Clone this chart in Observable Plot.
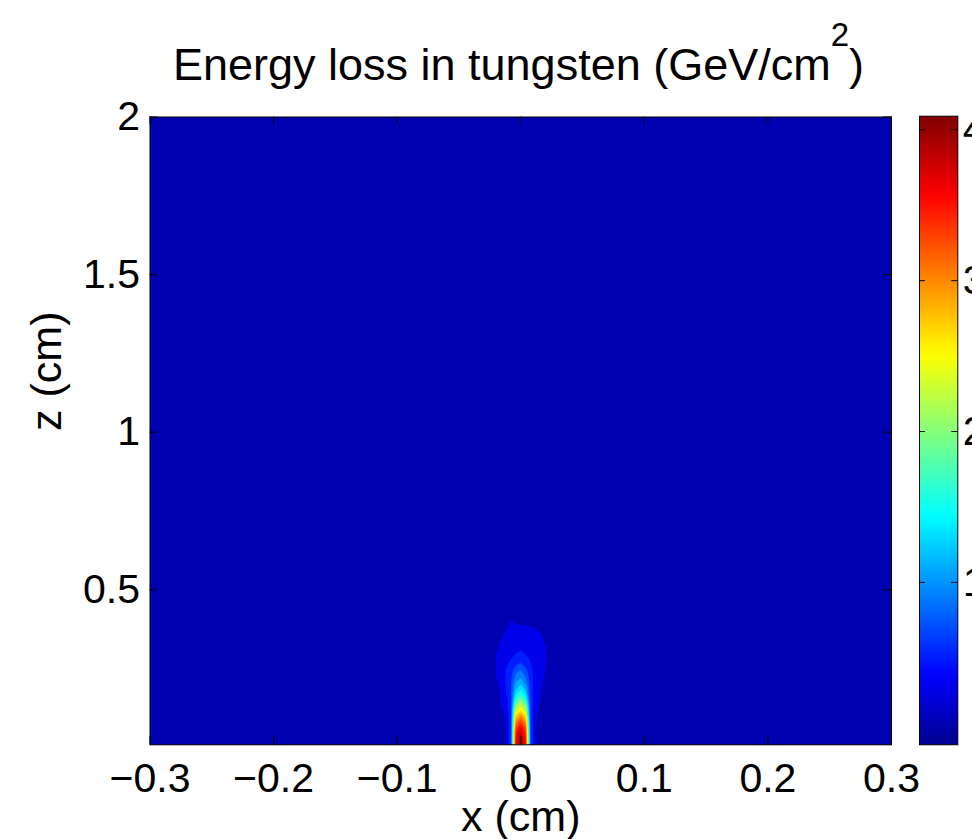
<!DOCTYPE html>
<html><head><meta charset="utf-8">
<script src="https://cdn.jsdelivr.net/npm/d3@7"></script>
<script src="https://cdn.jsdelivr.net/npm/@observablehq/plot@0.6"></script>
<style>
html,body{margin:0;padding:0;background:#fff;overflow:hidden;}
#wrap{position:relative;width:972px;height:839px;overflow:hidden;font-family:"Liberation Sans",Arial,sans-serif;}
#wrap svg{position:absolute;top:0;}
</style></head><body><div id="wrap"></div>
<script>
// ---- data ----
const xTicks = [-0.3, -0.2, -0.1, 0, 0.1, 0.2, 0.3];
const zTicks = [0.5, 1, 1.5, 2];
const cbTicks = [1, 2, 3, 4];
const xDomain = [-0.3, 0.3];
const zDomain = [0.008, 2];
const valueDomain = [-0.076, 4.09];
const jetStops = [0, 0.11, 0.365, 0.62, 0.873, 1];
const jetColors = ["#00008f", "#0000ff", "#00ffff", "#ffff00", "#ff0000", "#800000"];
const bgValue = 0.06;
const levels = [0.3,0.5,0.7,0.9,1.1,1.3,1.5,1.7,1.9,2.1,2.3,2.5,2.7,2.9,3.1,3.3,3.5,3.7,3.9];
// grid column centres (cm) and row centres (cm, top to bottom)
const gridX = [-0.028,-0.024,-0.020,-0.016,-0.012,-0.008,-0.004,0,0.004,0.008,0.012,0.016,0.020,0.024,0.028];
const gridZ = [0.42,0.40,0.38,0.36,0.34,0.32,0.30,0.28,0.26,0.24,0.22,0.20,0.18,0.16,0.14,0.12,0.10,0.08,0.06,0.04,0.02,0.00];
const energy = [
 [0.06,0.06,0.06,0.06,0.06,0.06,0.06,0.06,0.06,0.06,0.06,0.06,0.06,0.06,0.06],
 [0.06,0.06,0.06,0.08,0.14,0.33,0.24,0.20,0.18,0.15,0.12,0.10,0.08,0.06,0.06],
 [0.06,0.06,0.08,0.12,0.26,0.37,0.37,0.37,0.35,0.33,0.29,0.20,0.10,0.06,0.06],
 [0.06,0.06,0.11,0.24,0.34,0.39,0.41,0.41,0.41,0.39,0.36,0.32,0.20,0.08,0.06],
 [0.06,0.08,0.17,0.31,0.37,0.41,0.43,0.44,0.43,0.41,0.39,0.35,0.27,0.10,0.06],
 [0.06,0.09,0.24,0.34,0.39,0.43,0.46,0.47,0.46,0.43,0.40,0.37,0.31,0.12,0.06],
 [0.06,0.10,0.29,0.36,0.41,0.46,0.49,0.52,0.49,0.45,0.41,0.37,0.32,0.13,0.06],
 [0.06,0.10,0.32,0.37,0.43,0.50,0.58,0.62,0.56,0.48,0.42,0.37,0.32,0.12,0.06],
 [0.06,0.10,0.32,0.37,0.48,0.56,0.70,0.76,0.66,0.52,0.42,0.37,0.31,0.11,0.06],
 [0.06,0.09,0.31,0.37,0.52,0.62,0.86,0.94,0.80,0.56,0.42,0.36,0.29,0.10,0.06],
 [0.06,0.09,0.29,0.36,0.52,0.66,1.00,1.10,0.92,0.58,0.41,0.35,0.27,0.09,0.06],
 [0.06,0.08,0.26,0.35,0.52,0.68,1.15,1.30,1.06,0.60,0.41,0.34,0.23,0.08,0.06],
 [0.06,0.08,0.21,0.34,0.50,0.68,1.32,1.52,1.26,0.62,0.40,0.33,0.19,0.08,0.06],
 [0.06,0.08,0.16,0.33,0.46,0.68,1.58,1.85,1.54,0.64,0.39,0.31,0.15,0.07,0.06],
 [0.06,0.07,0.13,0.31,0.42,0.68,1.95,2.25,1.90,0.66,0.38,0.29,0.13,0.07,0.06],
 [0.06,0.07,0.11,0.27,0.36,0.66,2.35,2.65,2.30,0.66,0.35,0.26,0.11,0.06,0.06],
 [0.06,0.07,0.09,0.23,0.33,0.66,2.75,3.05,2.70,0.68,0.33,0.23,0.09,0.06,0.06],
 [0.06,0.07,0.08,0.19,0.31,0.66,3.10,3.45,3.05,0.70,0.31,0.20,0.08,0.06,0.06],
 [0.06,0.07,0.08,0.16,0.30,0.66,3.40,3.75,3.35,0.72,0.30,0.17,0.08,0.06,0.06],
 [0.06,0.06,0.07,0.13,0.29,0.66,3.58,3.97,3.54,0.72,0.29,0.15,0.07,0.06,0.06],
 [0.06,0.06,0.07,0.11,0.29,0.66,3.66,4.05,3.62,0.72,0.29,0.13,0.07,0.06,0.06],
 [0.06,0.06,0.07,0.11,0.29,0.66,3.70,4.09,3.66,0.72,0.29,0.13,0.07,0.06,0.06]
];

// ---- layout ----
const W = 972, H = 839;
const mL = 149.5, mR = 81, mT = 116.5, mB = 94.7;
const fW = W - mL - mR, fH = H - mT - mB;
const fontFamily = '"Liberation Sans", Arial, sans-serif';
const jet = d3.scaleLinear().domain(jetStops).range(jetColors).interpolate(d3.interpolateRgb).clamp(true);
const color = {type: "linear", domain: valueDomain, interpolate: (t) => jet(t)};
const fmt = (d) => (d < 0 ? "\u2212" : "") + Math.abs(d);

const nx = gridX.length, nz = gridZ.length;
const dx = gridX[1] - gridX[0], dz = gridZ[0] - gridZ[1];
const values = energy.slice().reverse().flat(); // bottom row first
const x1 = gridX[0] - dx / 2, x2 = gridX[nx - 1] + dx / 2;
const y1 = gridZ[nz - 1] - dz / 2, y2 = gridZ[0] + dz / 2;

const main = Plot.plot({
  width: W, height: H,
  marginLeft: mL, marginRight: mR, marginTop: mT, marginBottom: mB,
  style: {fontFamily, color: "#000", background: "transparent", overflow: "visible"},
  x: {domain: xDomain},
  y: {domain: zDomain},
  color,
  marks: [
    Plot.raster({fill: (x, y) => bgValue, x1: xDomain[0], x2: xDomain[1], y1: zDomain[0], y2: zDomain[1], width: 30, height: 30}),
    Plot.contour(values, {width: nx, height: nz, x1, x2, y1, y2, fill: Plot.identity, thresholds: levels, stroke: "none", clip: true}),
    Plot.frame({stroke: "#000", strokeWidth: 1}),
    Plot.tickX(xTicks, {x: (d) => d, insetTop: fH - 8, stroke: "#000"}),
    Plot.tickX(xTicks, {x: (d) => d, insetBottom: fH - 8, stroke: "#000"}),
    Plot.tickY(zTicks, {y: (d) => d, insetRight: fW - 8, stroke: "#000"}),
    Plot.tickY(zTicks, {y: (d) => d, insetLeft: fW - 8, stroke: "#000"}),
    Plot.axisX({ticks: xTicks, tickSize: 0, tickPadding: 18, fontSize: 41, label: null, tickFormat: fmt}),
    Plot.axisY({ticks: zTicks, tickSize: 0, tickPadding: 10, fontSize: 41, label: null, tickFormat: fmt}),
    Plot.text(["x (cm)"], {frameAnchor: "bottom", lineAnchor: "middle", dy: 72, fontSize: 43}),
    Plot.text(["z (cm)"], {frameAnchor: "left", lineAnchor: "middle", dx: -103, rotate: -90, fontSize: 43})
  ]
});
main.style.left = "0px";

const title = d3.select(main).append("text")
  .attr("x", 518.5).attr("y", 80)
  .attr("text-anchor", "middle")
  .attr("font-size", 45)
  .attr("font-family", fontFamily)
  .attr("fill", "#000");
title.append("tspan").text("Energy loss in tungsten (GeV/cm");
title.append("tspan").attr("font-size", 33).attr("dy", -34).text("2");
title.append("tspan").attr("font-size", 45).attr("dy", 34).text(")");

// ---- colour bar ----
const cbLeft = 918.7, cbW = 38.3, cbTop = 115.7, cbBottom = 744.3;
const cb = Plot.plot({
  width: cbW + 60, height: H,
  marginLeft: 0, marginRight: 60, marginTop: cbTop, marginBottom: H - cbBottom,
  style: {fontFamily, color: "#000", background: "transparent", overflow: "visible"},
  x: {domain: [0, 1], axis: null},
  y: {domain: valueDomain},
  color,
  marks: [
    Plot.raster({fill: (x, y) => y, x1: 0, x2: 1, y1: valueDomain[0], y2: valueDomain[1], width: 4, height: 64}),
    Plot.frame({stroke: "#000", strokeWidth: 1}),
    Plot.tickY(cbTicks, {y: (d) => d, insetRight: cbW - 6, stroke: "#000"}),
    Plot.tickY(cbTicks, {y: (d) => d, insetLeft: cbW - 6, stroke: "#000"}),
    Plot.axisY({anchor: "right", ticks: cbTicks, tickSize: 0, tickPadding: 5, fontSize: 41, label: null})
  ]
});
cb.style.left = cbLeft + "px";

const wrap = document.getElementById("wrap");
wrap.appendChild(main);
wrap.appendChild(cb);
</script></body></html>
